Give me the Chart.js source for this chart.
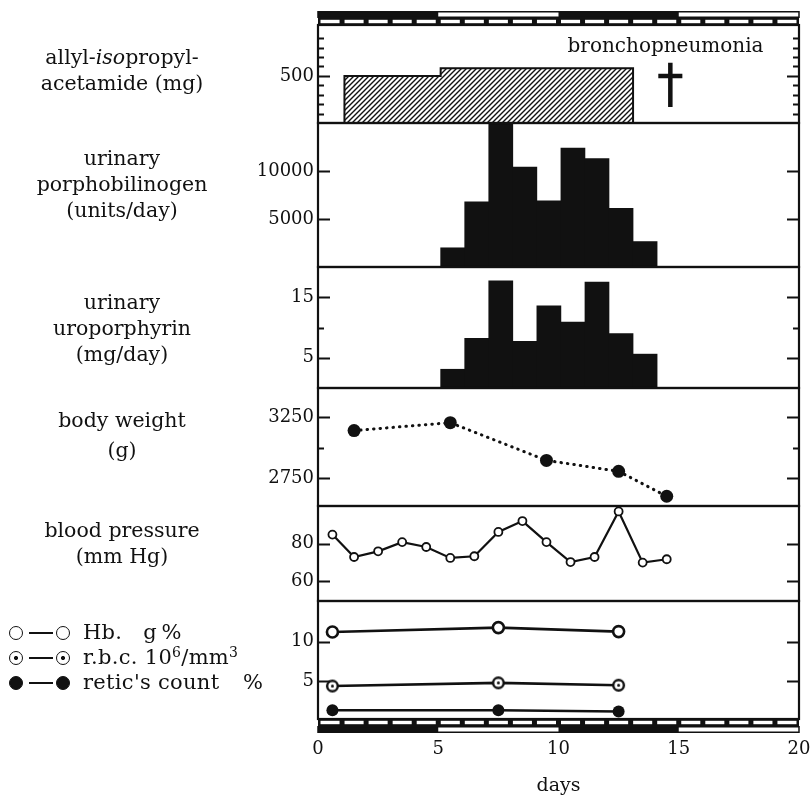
<!DOCTYPE html>
<html>
<head>
<meta charset="utf-8">
<script src="https://cdn.jsdelivr.net/npm/chart.js@4/dist/chart.umd.min.js"></script>
<style>
    body { margin: 0; background: #fff; }
    #wrap { position: relative; width: 811px; height: 797px; }
    #chart { position: absolute; left: 0; top: 0; }
    .lbl { position: absolute; left: 0; width: 244px; text-align: center; font-family: 'DejaVu Serif', serif; font-size: 20.5px; line-height: 26px; color: #111; }
    .leg { position: absolute; left: 0; height: 25px; width: 300px; font-family: 'DejaVu Serif', serif; font-size: 21px; line-height: 25px; color: #111; }
    .leg .sym { position: absolute; top: 6px; width: 14px; height: 14px; box-sizing: border-box; border: 1.5px solid #111; border-radius: 50%; background: #fff; }
    .leg .dash { position: absolute; top: 12px; left: 29px; width: 24px; height: 1.5px; background: #111; }
    .leg .dot { background: radial-gradient(circle, #111 0 1.8px, #fff 2.3px); }
    .leg .full { background: #111; }
    .leg .txt { position: absolute; left: 83px; top: 0; white-space: nowrap; letter-spacing: 0.3px; }
    .leg .pct { position: absolute; left: 243px; top: 0; }
    .leg sup { font-size: 14px; vertical-align: 7px; line-height: 0; }
</style>
</head>
<body>
<div id="wrap">
    <canvas id="chart" width="811" height="797"></canvas>
    <div class="lbl" style="top:44px">allyl-<i>iso</i>propyl-<br>acetamide (mg)</div>
    <div class="lbl" style="top:145px">urinary<br>porphobilinogen<br>(units/day)</div>
    <div class="lbl" style="top:289px">urinary<br>uroporphyrin<br>(mg/day)</div>
    <div class="lbl" style="top:405px; line-height:30px">body weight<br>(g)</div>
    <div class="lbl" style="top:517px">blood pressure<br>(mm Hg)</div>
    <div class="leg" style="top:620px"><span class="sym" style="left:9px"></span><span class="dash"></span><span class="sym" style="left:56px"></span><span class="txt">Hb.&nbsp;&nbsp;&nbsp;g&thinsp;%</span></div>
    <div class="leg" style="top:645px"><span class="sym dot" style="left:9px"></span><span class="dash"></span><span class="sym dot" style="left:56px"></span><span class="txt">r.b.c. 10<sup>6</sup>/mm<sup>3</sup></span></div>
    <div class="leg" style="top:670px"><span class="sym full" style="left:9px"></span><span class="dash"></span><span class="sym full" style="left:56px"></span><span class="txt">retic's count</span><span class="pct">%</span></div>
</div>
<script>
    // Eje x: días
    const dayTicks = [0, 5, 10, 15, 20];
    const darkBlocks = [[0, 5], [10, 15]]; // bloques negros de la tira superior/inferior

    // allyl-isopropyl-acetamide: bordes del escalón (días) y dosis (mg)
    const doseEdges = [1.1, 5.1, 13.1];
    const doseMg = [500, 580];

    // orina diaria: centro de cada barra (días)
    const urineDays = [5.6, 6.6, 7.6, 8.6, 9.6, 10.6, 11.6, 12.6, 13.6];
    const porphobilinogen = [2000, 6800, 15000, 10400, 6900, 12400, 11300, 6100, 2650];
    const uroporphyrin = [3.1, 8.2, 17.7, 7.7, 13.6, 10.9, 17.5, 9.0, 5.6];

    // peso corporal (g)
    const weightDays = [1.5, 5.5, 9.5, 12.5, 14.5];
    const weightG = [3140, 3205, 2895, 2805, 2600];

    // presión arterial (mm Hg)
    const bpDays = [0.6, 1.5, 2.5, 3.5, 4.5, 5.5, 6.5, 7.5, 8.5, 9.5, 10.5, 11.5, 12.5, 13.5, 14.5];
    const bpMmHg = [84.8, 72.9, 75.9, 80.8, 78.2, 72.4, 73.3, 86.2, 92, 80.8, 70.2, 72.9, 97.1, 69.9, 71.7];

    // sangre
    const bloodDays = [0.6, 7.5, 12.5];
    const hb = [11.2, 11.75, 11.25];
    const rbc = [4.4, 4.8, 4.5];
    const retic = [1.35, 1.35, 1.2];

    // marcas de los ejes y (valores) y cuáles llevan etiqueta
    const doseTicks = [100, 200, 300, 400, 500, 600, 700, 800, 900];
    const doseLabels = [500];
    const pbgTicks = [5000, 10000];
    const uroTicks = [5, 10, 15];
    const uroLabels = [5, 15];
    const weightTicks = [2750, 3000, 3250];
    const weightLabels = [2750, 3250];
    const bpTicks = [60, 80];
    const bloodTicks = [5, 10];

    // anotaciones del panel superior
    const noteText = 'bronchopneumonia';
    const noteAt = { x: 14.45, y: 810 };
    const deathAt = { x: 14.65, top: 640, cross: 500, bottom: 170 };

    const ink = '#111';
    const serif = "'DejaVu Serif', serif";
    const tickFont = { family: serif, size: 18 };

    const xy = (xs, ys) => xs.map((x, i) => ({ x, y: ys[i] }));

    // patrón rayado para la dosis
    const hatch = (() => {
        const c = document.createElement('canvas');
        c.width = 5; c.height = 5;
        const g = c.getContext('2d');
        g.fillStyle = '#fff';
        g.fillRect(0, 0, 5, 5);
        g.strokeStyle = ink;
        g.lineWidth = 1.4;
        g.beginPath();
        g.moveTo(-1, 6); g.lineTo(6, -1);
        g.moveTo(-1, 1); g.lineTo(1, -1);
        g.moveTo(4, 6); g.lineTo(6, 4);
        g.stroke();
        return g.createPattern(c, 'repeat');
    })();

    // círculo con punto central (r.b.c.)
    const dotCircle = (() => {
        const c = document.createElement('canvas');
        c.width = 15; c.height = 15;
        const g = c.getContext('2d');
        g.fillStyle = '#fff';
        g.strokeStyle = ink;
        g.lineWidth = 2.4;
        g.beginPath(); g.arc(7.5, 7.5, 5.3, 0, Math.PI * 2); g.fill(); g.stroke();
        g.fillStyle = ink;
        g.beginPath(); g.arc(7.5, 7.5, 1.5, 0, Math.PI * 2); g.fill();
        return c;
    })();

    // contorno escalonado de la dosis
    const doseOutline = [
        { x: doseEdges[0], y: 0 },
        { x: doseEdges[0], y: doseMg[0] },
        { x: doseEdges[1], y: doseMg[1] },
        { x: doseEdges[2], y: doseMg[1] },
        { x: doseEdges[2], y: 0 }
    ];

    const panelScale = (min, max, ticks, labelled, weight, stackWeight) => ({
        type: 'linear',
        position: 'left',
        stack: 'panels',
        stackWeight: stackWeight,
        weight: weight,
        min: min,
        max: max,
        grid: { display: false, drawTicks: false },
        border: { display: false },
        afterBuildTicks: s => { s.ticks = ticks.map(v => ({ value: v })); },
        afterFit: s => { s.width = 318; s.paddingTop = 0; s.paddingBottom = 0; },
        ticks: {
            autoSkip: false,
            padding: 4,
            color: ink,
            font: tickFont,
            callback: v => (labelled.includes(v) ? String(v) : '')
        }
    });

    const panelIds = ['y1', 'y2', 'y3', 'y4', 'y5', 'y6'];

    // marcos, marcas interiores, tiras de días y anotaciones
    const framesPlugin = {
        id: 'frames',
        afterDatasetsDraw(chart) {
            const { ctx, chartArea: a, scales } = chart;
            const px = v => scales.x.getPixelForValue(v);
            ctx.save();
            ctx.strokeStyle = ink;
            ctx.fillStyle = ink;

            panelIds.forEach(id => {
                const s = scales[id];
                ctx.lineWidth = 2.2;
                ctx.strokeRect(a.left, s.top, a.right - a.left, s.bottom - s.top);
                ctx.lineWidth = 1.8;
                s.ticks.forEach(t => {
                    const y = Math.round(s.getPixelForValue(t.value)) + 0.5;
                    const len = t.label ? 12 : 6;
                    ctx.beginPath();
                    ctx.moveTo(a.left, y); ctx.lineTo(a.left + len, y);
                    ctx.moveTo(a.right, y); ctx.lineTo(a.right - len, y);
                    ctx.stroke();
                });
            });

            const blockRow = (top, h) => {
                ctx.lineWidth = 1.5;
                for (let d = 0; d < 20; d += 5) {
                    const dark = darkBlocks.some(b => b[0] === d);
                    if (dark) ctx.fillRect(px(d), top, px(d + 5) - px(d), h);
                }
                ctx.strokeRect(a.left, top + 0.75, a.right - a.left, h - 1.5);
            };
            const dashRow = (top, h) => {
                ctx.fillRect(a.left, top, a.right - a.left, h);
                ctx.fillStyle = '#fff';
                for (let d = 0; d < 20; d++) {
                    ctx.fillRect(px(d) + 2.5, top + 1.8, px(d + 1) - px(d) - 5, h - 3.6);
                }
                ctx.fillStyle = ink;
            };
            blockRow(a.top - 14, 7);
            dashRow(a.top - 7, 7);
            dashRow(a.bottom, 7);
            blockRow(a.bottom + 7, 7);

            // anotación y cruz
            const y1 = scales.y1;
            ctx.font = `20px ${serif}`;
            ctx.textAlign = 'center';
            ctx.textBaseline = 'middle';
            ctx.fillText(noteText, px(noteAt.x), y1.getPixelForValue(noteAt.y));
            ctx.lineWidth = 4.5;
            ctx.beginPath();
            ctx.moveTo(px(deathAt.x), y1.getPixelForValue(deathAt.top));
            ctx.lineTo(px(deathAt.x), y1.getPixelForValue(deathAt.bottom));
            ctx.moveTo(px(deathAt.x - 0.5), y1.getPixelForValue(deathAt.cross));
            ctx.lineTo(px(deathAt.x + 0.5), y1.getPixelForValue(deathAt.cross));
            ctx.stroke();
            ctx.restore();
        }
    };

    new Chart(document.getElementById('chart'), {
        type: 'line',
        data: {
            datasets: [
                {
                    label: 'allyl-isopropyl-acetamide',
                    data: doseOutline,
                    yAxisID: 'y1',
                    stepped: 'before',
                    borderColor: ink,
                    borderWidth: 2,
                    backgroundColor: hatch,
                    fill: 'origin',
                    pointRadius: 0
                },
                {
                    type: 'bar',
                    label: 'porphobilinogen',
                    data: xy(urineDays, porphobilinogen),
                    yAxisID: 'y2',
                    backgroundColor: ink,
                    borderWidth: 0,
                    barPercentage: 1,
                    categoryPercentage: 1,
                    grouped: false
                },
                {
                    type: 'bar',
                    label: 'uroporphyrin',
                    data: xy(urineDays, uroporphyrin),
                    yAxisID: 'y3',
                    backgroundColor: ink,
                    borderWidth: 0,
                    barPercentage: 1,
                    categoryPercentage: 1,
                    grouped: false
                },
                {
                    label: 'body weight',
                    data: xy(weightDays, weightG),
                    yAxisID: 'y4',
                    borderColor: ink,
                    borderWidth: 3,
                    borderDash: [0.5, 6],
                    borderCapStyle: 'round',
                    pointRadius: 6.5,
                    pointBackgroundColor: ink,
                    pointBorderWidth: 0
                },
                {
                    label: 'blood pressure',
                    data: xy(bpDays, bpMmHg),
                    yAxisID: 'y5',
                    borderColor: ink,
                    borderWidth: 2.2,
                    pointRadius: 4,
                    pointBackgroundColor: '#fff',
                    pointBorderColor: ink,
                    pointBorderWidth: 1.8
                },
                {
                    label: 'Hb',
                    data: xy(bloodDays, hb),
                    yAxisID: 'y6',
                    borderColor: ink,
                    borderWidth: 2.6,
                    pointRadius: 5.5,
                    pointBackgroundColor: '#fff',
                    pointBorderColor: ink,
                    pointBorderWidth: 2.6
                },
                {
                    label: 'r.b.c.',
                    data: xy(bloodDays, rbc),
                    yAxisID: 'y6',
                    borderColor: ink,
                    borderWidth: 2.6,
                    pointStyle: dotCircle
                },
                {
                    label: "retic's count",
                    data: xy(bloodDays, retic),
                    yAxisID: 'y6',
                    borderColor: ink,
                    borderWidth: 2.6,
                    pointRadius: 6,
                    pointBackgroundColor: ink,
                    pointBorderWidth: 0
                }
            ]
        },
        options: {
            responsive: false,
            animation: false,
            devicePixelRatio: 1,
            layout: { padding: { left: 0, right: 12, top: 25, bottom: 0 } },
            plugins: { legend: { display: false }, tooltip: { enabled: false } },
            elements: { line: { tension: 0 } },
            scales: {
                x: {
                    type: 'linear',
                    min: 0,
                    max: 20,
                    offset: false,
                    grid: { display: false, drawTicks: false, offset: false },
                    border: { display: false },
                    afterBuildTicks: s => { s.ticks = dayTicks.map(v => ({ value: v })); },
                    afterFit: s => { s.height = 78; s.paddingLeft = 0; s.paddingRight = 0; },
                    ticks: { padding: 20, color: ink, font: tickFont, maxRotation: 0 },
                    title: { display: true, text: 'days', color: ink, font: { family: serif, size: 19 }, padding: { top: 0, bottom: 0 } }
                },
                y1: panelScale(0, 1040, doseTicks, doseLabels, 6, 98),
                y2: panelScale(0, 15000, pbgTicks, pbgTicks, 5, 144),
                y3: panelScale(0, 20, uroTicks, uroLabels, 4, 121),
                y4: panelScale(2520, 3490, weightTicks, weightLabels, 3, 118),
                y5: panelScale(49.5, 100, bpTicks, bpTicks, 2, 95),
                y6: panelScale(0.25, 15.1, bloodTicks, bloodTicks, 1, 118)
            }
        },
        plugins: [framesPlugin]
    });
</script>
</body>
</html>
